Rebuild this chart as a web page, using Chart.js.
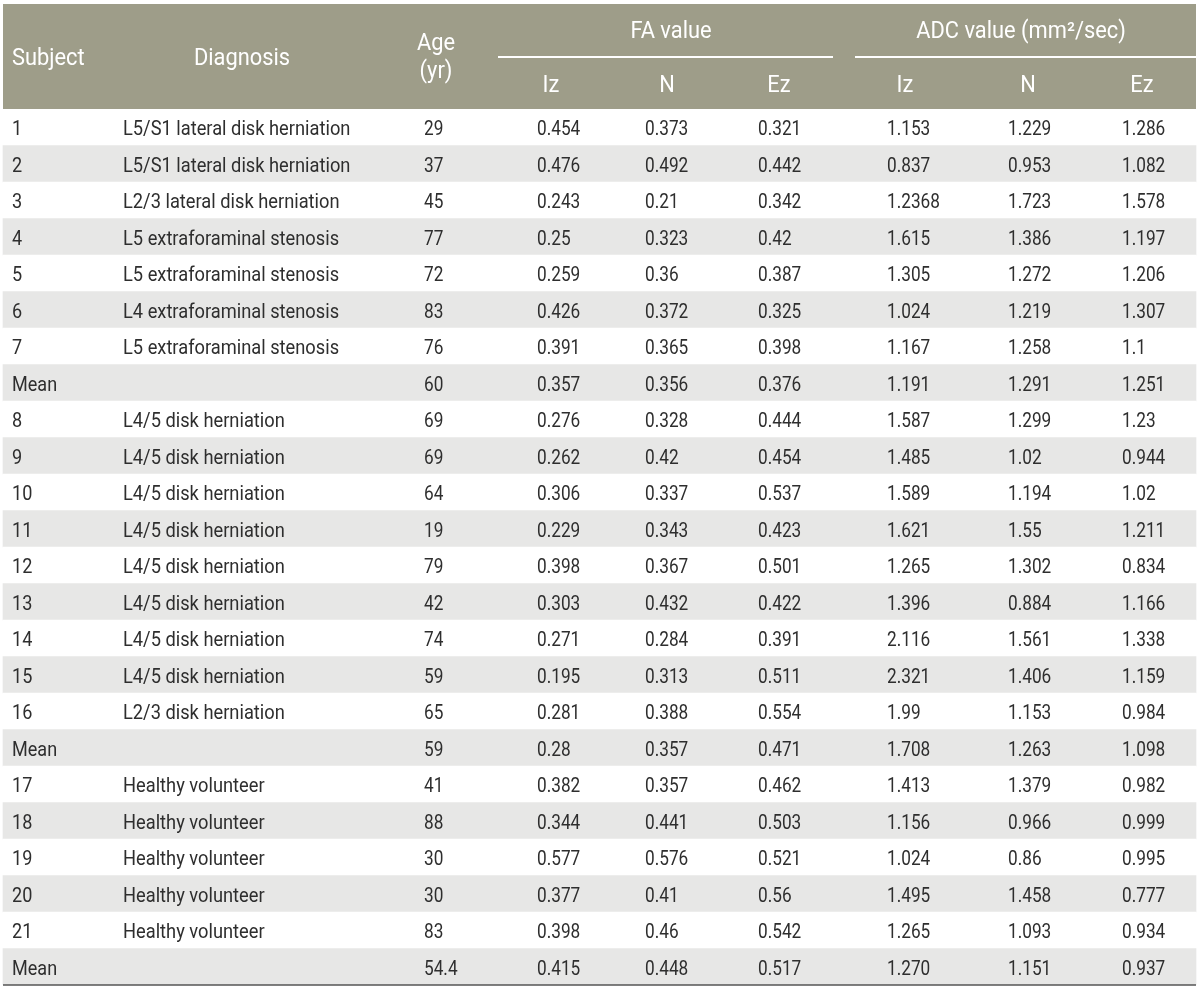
<!DOCTYPE html>
<html lang="en">
<head>
    <meta charset="UTF-8">
    <title>FA and ADC values</title>
    <script src="https://cdn.jsdelivr.net/npm/chart.js"></script>
    <style>
        body { margin: 0; background: #fff; }
        #wrap { width: 1200px; height: 989px; position: relative; }
    </style>
</head>
<body>
    <div id="wrap"><canvas id="tableChart"></canvas></div>
    <script>
        // Table data, one array per column
        const subjects = ['1', '2', '3', '4', '5', '6', '7', 'Mean', '8', '9', '10', '11', '12', '13', '14', '15', '16', 'Mean', '17', '18', '19', '20', '21', 'Mean'];
        const diagnoses = [
            'L5/S1 lateral disk herniation', 'L5/S1 lateral disk herniation', 'L2/3 lateral disk herniation',
            'L5 extraforaminal stenosis', 'L5 extraforaminal stenosis', 'L4 extraforaminal stenosis', 'L5 extraforaminal stenosis', '',
            'L4/5 disk herniation', 'L4/5 disk herniation', 'L4/5 disk herniation', 'L4/5 disk herniation', 'L4/5 disk herniation',
            'L4/5 disk herniation', 'L4/5 disk herniation', 'L4/5 disk herniation', 'L2/3 disk herniation', '',
            'Healthy volunteer', 'Healthy volunteer', 'Healthy volunteer', 'Healthy volunteer', 'Healthy volunteer', ''
        ];
        const ages = ['29', '37', '45', '77', '72', '83', '76', '60', '69', '69', '64', '19', '79', '42', '74', '59', '65', '59', '41', '88', '30', '30', '83', '54.4'];
        const faIz = ['0.454', '0.476', '0.243', '0.25', '0.259', '0.426', '0.391', '0.357', '0.276', '0.262', '0.306', '0.229', '0.398', '0.303', '0.271', '0.195', '0.281', '0.28', '0.382', '0.344', '0.577', '0.377', '0.398', '0.415'];
        const faN = ['0.373', '0.492', '0.21', '0.323', '0.36', '0.372', '0.365', '0.356', '0.328', '0.42', '0.337', '0.343', '0.367', '0.432', '0.284', '0.313', '0.388', '0.357', '0.357', '0.441', '0.576', '0.41', '0.46', '0.448'];
        const faEz = ['0.321', '0.442', '0.342', '0.42', '0.387', '0.325', '0.398', '0.376', '0.444', '0.454', '0.537', '0.423', '0.501', '0.422', '0.391', '0.511', '0.554', '0.471', '0.462', '0.503', '0.521', '0.56', '0.542', '0.517'];
        const adcIz = ['1.153', '0.837', '1.2368', '1.615', '1.305', '1.024', '1.167', '1.191', '1.587', '1.485', '1.589', '1.621', '1.265', '1.396', '2.116', '2.321', '1.99', '1.708', '1.413', '1.156', '1.024', '1.495', '1.265', '1.270'];
        const adcN = ['1.229', '0.953', '1.723', '1.386', '1.272', '1.219', '1.258', '1.291', '1.299', '1.02', '1.194', '1.55', '1.302', '0.884', '1.561', '1.406', '1.153', '1.263', '1.379', '0.966', '0.86', '1.458', '1.093', '1.151'];
        const adcEz = ['1.286', '1.082', '1.578', '1.197', '1.206', '1.307', '1.1', '1.251', '1.23', '0.944', '1.02', '1.211', '0.834', '1.166', '1.338', '1.159', '0.984', '1.098', '0.982', '0.999', '0.995', '0.777', '0.934', '0.937'];

        // Layout (x positions on the 0..1200 x scale, horizontal text squeeze)
        const TABLE_LEFT = 3, TABLE_RIGHT = 1196;
        const columns = [
            { values: subjects, x: 12, sx: 0.86 },
            { values: diagnoses, x: 123, sx: 0.87 },
            { values: ages, x: 424, sx: 0.82 },
            { values: faIz, x: 537, sx: 0.82 },
            { values: faN, x: 645, sx: 0.82 },
            { values: faEz, x: 758, sx: 0.82 },
            { values: adcIz, x: 887, sx: 0.82 },
            { values: adcN, x: 1008, sx: 0.82 },
            { values: adcEz, x: 1122, sx: 0.82 }
        ];
        const HEADER_BG = '#9e9d89';
        const STRIPE = '#e7e7e6';
        const TEXT = '#2e2e2e';
        const FONT = 'Roboto, "Liberation Sans", sans-serif';

        function drawText(ctx, text, x, y, align, size, color, sx) {
            ctx.save();
            ctx.translate(x, y);
            ctx.scale(sx, 1);
            ctx.font = '400 ' + size + 'px ' + FONT;
            ctx.fillStyle = color;
            ctx.textAlign = align;
            ctx.textBaseline = 'alphabetic';
            ctx.fillText(text, 0, 0);
            ctx.restore();
        }

        const tablePlugin = {
            id: 'tableText',
            afterDatasetsDraw(chart) {
                const ctx = chart.ctx;
                const xs = chart.scales.x;
                const ys = chart.scales.y;
                const top = chart.chartArea.top;
                const px = v => xs.getPixelForValue(v);

                // header block
                ctx.save();
                ctx.fillStyle = HEADER_BG;
                ctx.fillRect(px(TABLE_LEFT), 4, px(TABLE_RIGHT) - px(TABLE_LEFT), top - 4);
                ctx.strokeStyle = '#ffffff';
                ctx.lineWidth = 2;
                ctx.beginPath();
                ctx.moveTo(px(498), 57); ctx.lineTo(px(833), 57);
                ctx.moveTo(px(855), 57); ctx.lineTo(px(TABLE_RIGHT), 57);
                ctx.stroke();
                ctx.restore();

                const hs = 23, hx = 0.95, white = '#ffffff';
                drawText(ctx, 'Subject', px(12), 65, 'left', hs, white, hx);
                drawText(ctx, 'Diagnosis', px(242), 65, 'center', hs, white, hx);
                drawText(ctx, 'Age', px(436), 50, 'center', hs, white, hx);
                drawText(ctx, '(yr)', px(436), 78, 'center', hs, white, hx);
                drawText(ctx, 'FA value', px(671), 38, 'center', hs, white, hx);
                drawText(ctx, 'ADC value (mm²/sec)', px(1021), 38, 'center', hs, white, hx);
                const subs = [['Iz', 551], ['N', 667], ['Ez', 779], ['Iz', 905], ['N', 1028], ['Ez', 1142]];
                subs.forEach(s => drawText(ctx, s[0], px(s[1]), 92, 'center', hs, white, hx));

                // body cells
                subjects.forEach((_, i) => {
                    const y = ys.getPixelForValue(i) + 8;
                    columns.forEach(col => {
                        if (col.values[i]) drawText(ctx, col.values[i], px(col.x), y, 'left', 21, TEXT, col.sx);
                    });
                });

                // bottom rule
                ctx.save();
                ctx.strokeStyle = '#555555';
                ctx.lineWidth = 1.5;
                ctx.beginPath();
                ctx.moveTo(px(TABLE_LEFT), chart.chartArea.bottom);
                ctx.lineTo(px(TABLE_RIGHT), chart.chartArea.bottom);
                ctx.stroke();
                ctx.restore();
            }
        };

        const ctx = document.getElementById('tableChart').getContext('2d');
        new Chart(ctx, {
            type: 'bar',
            data: {
                labels: subjects,
                datasets: [{
                    data: subjects.map(() => [TABLE_LEFT, TABLE_RIGHT]),
                    backgroundColor: subjects.map((_, i) => i % 2 === 1 ? STRIPE : '#ffffff'),
                    borderWidth: 0,
                    barPercentage: 1,
                    categoryPercentage: 1
                }]
            },
            options: {
                indexAxis: 'y',
                responsive: true,
                maintainAspectRatio: false,
                animation: false,
                layout: { padding: { top: 109, bottom: 4, left: 0, right: 0 } },
                plugins: { legend: { display: false }, tooltip: { enabled: false } },
                scales: {
                    x: { type: 'linear', min: 0, max: 1200, display: false },
                    y: { display: false, grid: { display: false } }
                }
            },
            plugins: [tablePlugin]
        });
    </script>
</body>
</html>
